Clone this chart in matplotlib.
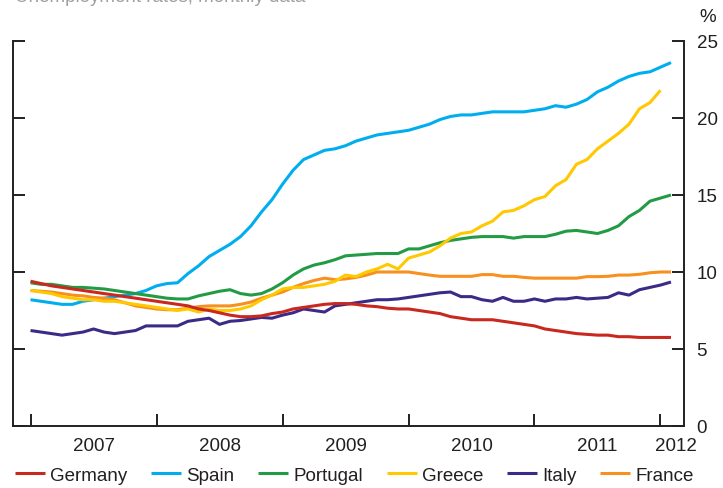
import numpy as np
import matplotlib
matplotlib.use("Agg")
from matplotlib import pyplot as plt

# Unemployment rates, monthly data (Jan 2007 = month 0)
germany = [9.4, 9.25, 9.1, 9.0, 8.9, 8.8, 8.7, 8.6, 8.5, 8.4, 8.3, 8.2,
           8.1, 8.0, 7.9, 7.8, 7.6, 7.5, 7.35, 7.2, 7.1, 7.1, 7.15, 7.3,
           7.4, 7.6, 7.7, 7.8, 7.9, 7.95, 7.95, 7.9, 7.8, 7.75, 7.65, 7.6,
           7.6, 7.5, 7.4, 7.3, 7.1, 7.0, 6.9, 6.9, 6.9, 6.8, 6.7, 6.6,
           6.5, 6.3, 6.2, 6.1, 6.0, 5.95, 5.9, 5.9, 5.8, 5.8, 5.75, 5.75, 5.75, 5.75]
spain = [8.2, 8.1, 8.0, 7.9, 7.9, 8.1, 8.2, 8.3, 8.4, 8.5, 8.6, 8.8,
         9.1, 9.25, 9.3, 9.9, 10.4, 11.0, 11.4, 11.8, 12.3, 13.0, 13.9, 14.7,
         15.7, 16.6, 17.3, 17.6, 17.9, 18.0, 18.2, 18.5, 18.7, 18.9, 19.0, 19.1,
         19.2, 19.4, 19.6, 19.9, 20.1, 20.2, 20.2, 20.3, 20.4, 20.4, 20.4, 20.4,
         20.5, 20.6, 20.8, 20.7, 20.9, 21.2, 21.7, 22.0, 22.4, 22.7, 22.9, 23.0, 23.3, 23.6]
portugal = [9.3, 9.2, 9.2, 9.1, 9.0, 9.0, 8.95, 8.9, 8.8, 8.7, 8.6, 8.5,
            8.4, 8.3, 8.25, 8.25, 8.45, 8.6, 8.75, 8.85, 8.6, 8.5, 8.6, 8.9,
            9.3, 9.8, 10.2, 10.45, 10.6, 10.8, 11.05, 11.1, 11.15, 11.2, 11.2, 11.2,
            11.5, 11.5, 11.7, 11.9, 12.05, 12.15, 12.25, 12.3, 12.3, 12.3, 12.2, 12.3,
            12.3, 12.3, 12.45, 12.65, 12.7, 12.6, 12.5, 12.7, 13.0, 13.6, 14.0, 14.6, 14.8, 15.0]
greece = [8.8, 8.7, 8.6, 8.4, 8.3, 8.2, 8.2, 8.1, 8.1, 8.0, 7.9, 7.8,
          7.7, 7.6, 7.5, 7.6, 7.4, 7.6, 7.5, 7.5, 7.6, 7.8, 8.2, 8.5,
          8.9, 9.0, 9.0, 9.1, 9.2, 9.4, 9.8, 9.7, 10.0, 10.2, 10.5, 10.2,
          10.9, 11.1, 11.3, 11.7, 12.2, 12.5, 12.6, 13.0, 13.3, 13.9, 14.0, 14.3,
          14.7, 14.9, 15.6, 16.0, 17.0, 17.3, 18.0, 18.5, 19.0, 19.6, 20.6, 21.0, 21.8]
italy = [6.2, 6.1, 6.0, 5.9, 6.0, 6.1, 6.3, 6.1, 6.0, 6.1, 6.2, 6.5,
         6.5, 6.5, 6.5, 6.8, 6.9, 7.0, 6.6, 6.8, 6.85, 6.95, 7.05, 7.0,
         7.2, 7.35, 7.6, 7.5, 7.4, 7.8, 7.9, 8.0, 8.1, 8.2, 8.2, 8.25,
         8.35, 8.45, 8.55, 8.65, 8.7, 8.4, 8.4, 8.2, 8.1, 8.35, 8.1, 8.1,
         8.25, 8.1, 8.25, 8.25, 8.35, 8.25, 8.3, 8.35, 8.65, 8.5, 8.85, 9.0, 9.15, 9.35]
france = [8.8, 8.75, 8.7, 8.6, 8.5, 8.45, 8.35, 8.3, 8.2, 8.0, 7.8, 7.7,
          7.6, 7.55, 7.55, 7.65, 7.75, 7.8, 7.8, 7.8, 7.9, 8.05, 8.3, 8.5,
          8.7, 9.0, 9.25, 9.45, 9.6, 9.5, 9.55, 9.65, 9.8, 10.0, 10.0, 10.0,
          10.0, 9.9, 9.8, 9.72, 9.72, 9.72, 9.72, 9.83, 9.83, 9.72, 9.72, 9.65,
          9.6, 9.6, 9.6, 9.6, 9.6, 9.7, 9.7, 9.72, 9.8, 9.8, 9.85, 9.95, 10.0, 10.0]

years = ["2007", "2008", "2009", "2010", "2011", "2012"]
yticks = [0, 5, 10, 15, 20, 25]

plt.rcParams['font.family'] = ['Liberation Sans', 'DejaVu Sans']
txt = '#231f20'
fs = 13.5

fig = plt.figure(figsize=(7.23, 4.89), dpi=100)
ax = fig.add_axes([13 / 723, 62 / 489, 671 / 723, 385 / 489])

series = [("Spain", spain, '#00aeef'),
          ("Portugal", portugal, '#239b45'),
          ("France", france, '#f7901e'),
          ("Greece", greece, '#ffc800'),
          ("Italy", italy, '#3c2a86'),
          ("Germany", germany, '#c8281e')]
lines = {}
for name, vals, col in series:
    ln, = ax.plot(np.arange(len(vals)), vals, color=col, lw=2.2,
                  solid_capstyle='butt', solid_joinstyle='round', label=name)
    lines[name] = ln

ax.set_xlim(-1.67, 62.24)
ax.set_ylim(0, 25)
ax.spines['top'].set_visible(False)
for s in ['left', 'right', 'bottom']:
    ax.spines[s].set_color(txt)
    ax.spines[s].set_linewidth(1.4)

ax.set_yticks(yticks)
ax.tick_params(axis='y', left=True, right=True, labelleft=False, labelright=True,
               direction='in', length=8.5, width=1.4, color=txt,
               labelsize=fs, labelcolor=txt, pad=9)

ax.set_xticks(range(0, 61, 12))
ax.set_xticklabels([])
ax.set_xticks([6, 18, 30, 42, 54, 61.5], minor=True)
ax.set_xticklabels(years, minor=True)
ax.tick_params(axis='x', which='major', direction='in', length=8.5, width=1.4, color=txt)
ax.tick_params(axis='x', which='minor', length=0, labelsize=fs, labelcolor=txt, pad=8)

fig.text(708 / 723, 1 - 18 / 489, "%", ha='center', va='center', fontsize=fs, color=txt)
fig.text(15 / 723, 1 - 2 / 489, "Unemployment rates, monthly data", ha='left',
         va='baseline', fontsize=fs, color='#a0a0a0')

order = ["Germany", "Spain", "Portugal", "Greece", "Italy", "France"]
fig.legend([lines[n] for n in order], order, loc='center left',
           bbox_to_anchor=(15 / 723, 13 / 489), ncol=6, frameon=False,
           fontsize=fs, handlelength=1.6, handletextpad=0.27,
           columnspacing=1.27, borderpad=0, borderaxespad=0,
           labelcolor=txt)

fig.savefig("out.png", dpi=100)
